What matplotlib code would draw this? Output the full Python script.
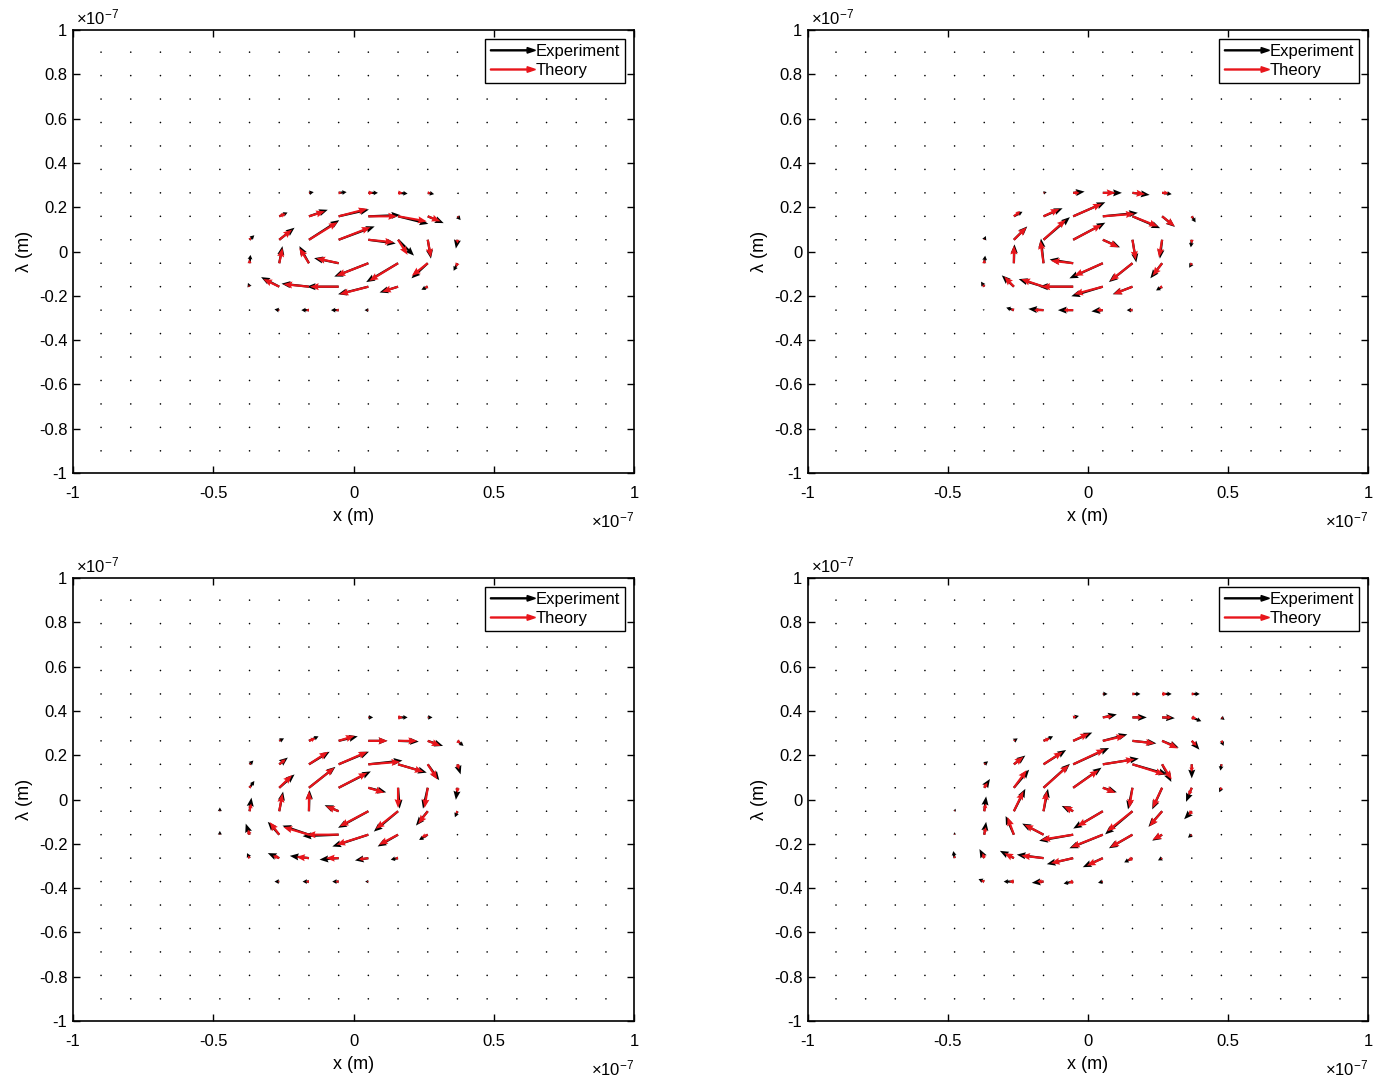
import numpy as np
import matplotlib
matplotlib.use('Agg')
import matplotlib.pyplot as plt
import matplotlib.patches as mpatches
from matplotlib.legend_handler import HandlerPatch

plt.rcParams['font.family'] = ['Liberation Sans', 'DejaVu Sans']
plt.rcParams['mathtext.default'] = 'regular'

# measurement grid in nm (axis unit 1e-7 m = 100 nm), 18 x 18 points
grid_nm = np.linspace(-90, 90, 18)
# vectors below are given for rows 4..13 (top to bottom) and cols 4..13

# ---- panel 1 ----
u_exp1 = [[0, 0, 0, 0, 0, 0, 0, 0, 0, 0],
          [0, 0, 0, 0, 0, 0, 0, 0, 0, 0],
          [0, 0, 0, 1.5, 2.5, 3, 3, 2, 0.5, 0],
          [0, 0.3, 2.6, 5.9, 9.5, 10, 9.5, 5, 1, 0],
          [0, 1.5, 4.8, 9.5, 11.3, 8.6, 5, 1, -0.5, 0],
          [0, 0.3, 1, -3, -7.7, -10.7, -10, -5.1, -1.2, 0],
          [0, -0.5, -5.7, -8.6, -10, -9.5, -5.8, -2, 0, 0],
          [0, 0, -1.5, -2.4, -2.4, -1.2, -0.3, 0, 0, 0],
          [0, 0, 0, 0, 0, 0, 0, 0, 0, 0],
          [0, 0, 0, 0, 0, 0, 0, 0, 0, 0]]
v_exp1 = [[0, 0, 0, 0, 0, 0, 0, 0, 0, 0],
          [0, 0, 0, 0, 0, 0, 0, 0, 0, 0],
          [0, 0, 0, 0.3, 0.3, 0, -0.3, -0.5, -0.5, 0],
          [0, 0.3, 1.5, 2.6, 2.7, 0.5, -3, -2.7, -1.5, 0],
          [0, 1.8, 4.8, 7.8, 5.3, -1.5, -6.3, -7.5, -3.5, 0],
          [0, 3.3, 6.8, 6.8, 2, -5.3, -7.5, -6, -3, 0],
          [0, 1.5, 3.8, 1.2, 0, -3, -2.3, -1.2, 0, 0],
          [0, 0, 0.3, 0, 0, 0, 0, 0, 0, 0],
          [0, 0, 0, 0, 0, 0, 0, 0, 0, 0],
          [0, 0, 0, 0, 0, 0, 0, 0, 0, 0]]
u_th1 = [[0, 0, 0, 0, 0, 0, 0, 0, 0, 0],
         [0, 0, 0, 0, 0, 0, 0, 0, 0, 0],
         [0, 0, 0, 0.5, 1, 1.5, 1.5, 1, 0, 0],
         [0, 0, 2, 5, 9, 9, 9, 4, 0.5, 0],
         [0, 0.5, 4, 9, 10, 8, 3, 1, 0, 0],
         [0, 0, 1, -3, -7, -10, -9, -5, -0.5, 0],
         [0, -0.5, -5, -8, -9, -9, -5, -1, 0, 0],
         [0, 0, -0.5, -1, -1, -0.5, 0, 0, 0, 0],
         [0, 0, 0, 0, 0, 0, 0, 0, 0, 0],
         [0, 0, 0, 0, 0, 0, 0, 0, 0, 0]]
v_th1 = [[0, 0, 0, 0, 0, 0, 0, 0, 0, 0],
         [0, 0, 0, 0, 0, 0, 0, 0, 0, 0],
         [0, 0, 0, 0, 0, 0, 0, 0, 0, 0],
         [0, 0, 1, 2, 3, 0, -2, -2, -0.5, 0],
         [0, 1, 4, 7, 5, -1, -6, -7, -1.5, 0],
         [0, 1.5, 6, 6, 2, -5, -7, -5, -1.5, 0],
         [0, 0.5, 3, 1, 0, -3, -2, -0.5, 0, 0],
         [0, 0, 0, 0, 0, 0, 0, 0, 0, 0],
         [0, 0, 0, 0, 0, 0, 0, 0, 0, 0],
         [0, 0, 0, 0, 0, 0, 0, 0, 0, 0]]

# ---- panel 2 ----
u_exp2 = [[0, 0, 0, 0, 0, 0, 0, 0, 0, 0],
          [0, 0, 0, 0, 0, 0, 0, 0, 0, 0],
          [0, 0, 0, 1, 3.6, 6, 5.4, 3, 0.3, 0],
          [0, 0.2, 2.7, 6, 10.1, 11, 8.7, 4, 1.2, 0],
          [0, 0.5, 4.2, 8.3, 10.1, 5.4, 1.2, -0.7, -0.3, 0],
          [0, 0.3, 0.2, -0.8, -7.4, -10.5, -7.4, -3.7, -0.8, 0],
          [0, -1, -3.8, -7.8, -10.7, -9.9, -6.2, -1.9, 0, 0],
          [0, -0.5, -2.4, -4.8, -4.8, -3.6, -1.8, 0, 0, 0],
          [0, 0, 0, 0, 0, 0, 0, 0, 0, 0],
          [0, 0, 0, 0, 0, 0, 0, 0, 0, 0]]
v_exp2 = [[0, 0, 0, 0, 0, 0, 0, 0, 0, 0],
          [0, 0, 0, 0, 0, 0, 0, 0, 0, 0],
          [0, 0, 0, 0.3, 0.5, 0, -0.8, -0.5, 0, 0],
          [0, 0.2, 1.8, 3.2, 5.6, 1.4, -4.7, -4.2, -2.4, 0],
          [0, 1.5, 5.3, 9, 6.8, -3, -9, -7.5, -3, 0],
          [0, 3, 7.5, 9.8, 1.5, -6, -7.5, -6, -1.8, 0],
          [0, 2, 4.5, 3, 0, -3.8, -3, -1.5, 0, 0],
          [0, 0.3, 1, 0.5, 0, -0.5, 0, 0, 0, 0],
          [0, 0, 0, 0, 0, 0, 0, 0, 0, 0],
          [0, 0, 0, 0, 0, 0, 0, 0, 0, 0]]
u_th2 = [[0, 0, 0, 0, 0, 0, 0, 0, 0, 0],
         [0, 0, 0, 0, 0, 0, 0, 0, 0, 0],
         [0, 0, 0, 0.5, 2, 4, 4, 2, 0, 0],
         [0, 0, 2, 5, 9, 10, 8, 4, 0.5, 0],
         [0, 0, 4, 7, 9, 5, 1, -1, 0, 0],
         [0, 0, 0, -1, -7, -9, -7, -3, -0.5, 0],
         [0, -0.5, -3, -7, -10, -9, -6, -1, 0, 0],
         [0, 0, -1, -3, -3, -2, -1, 0, 0, 0],
         [0, 0, 0, 0, 0, 0, 0, 0, 0, 0],
         [0, 0, 0, 0, 0, 0, 0, 0, 0, 0]]
v_th2 = [[0, 0, 0, 0, 0, 0, 0, 0, 0, 0],
         [0, 0, 0, 0, 0, 0, 0, 0, 0, 0],
         [0, 0, 0, 0, 0, 0, -0.5, 0, 0, 0],
         [0, 0, 2, 3, 5, 1, -4, -4, -1, 0],
         [0, 0.5, 5, 8, 6, -3, -8, -7, -1.5, 0],
         [0, 1.5, 7, 9, 1, -5, -7, -5, -1, 0],
         [0, 1, 4, 3, 0, -3, -3, -0.5, 0, 0],
         [0, 0, 0.5, 0, 0, 0, 0, 0, 0, 0],
         [0, 0, 0, 0, 0, 0, 0, 0, 0, 0],
         [0, 0, 0, 0, 0, 0, 0, 0, 0, 0]]

# ---- panel 3 ----
u_exp3 = [[0, 0, 0, 0, 0, 0, 0, 0, 0, 0],
          [0, 0, 0, 0, 0.5, 1.5, 3, 1.5, 0, 0],
          [0, 0.5, 1.5, 3, 6, 6, 6.5, 4.8, 1.9, 0],
          [0, 1.2, 2.7, 6.5, 9.5, 10.7, 9, 3.6, 1, 0],
          [0, 1.5, 4.8, 8.3, 10.1, 5.6, 0.5, -1.5, -0.5, 0],
          [0, 0.6, 1.2, 0.2, -4.4, -9.5, -7.6, -3.7, -0.8, 0],
          [0, -1.2, -3.6, -8.3, -11.3, -11.3, -6.4, -2.7, 0, 0],
          [0, -0.8, -3.6, -6, -6, -4.2, -2.3, 0, 0, 0],
          [0, 0, -1.5, -2, -2, -1, 0, 0, 0, 0],
          [0, 0, 0, 0, 0, 0, 0, 0, 0, 0]]
v_exp3 = [[0, 0, 0, 0, 0, 0, 0, 0, 0, 0],
          [0, 0, 0, 0, 0, 0, 0, 0, 0, 0],
          [0, 0, 1, 1.8, 1.8, 0, -0.3, -2, -2, 0],
          [0, 1.5, 2.7, 5, 5, 1.5, -3.3, -6.3, -4, 0],
          [0, 2.7, 5.3, 8.3, 6.5, -1.8, -8.3, -8.3, -4.8, 0],
          [1.5, 5.4, 7.8, 8.4, 2.4, -6.6, -8.1, -5.7, -2.4, 0],
          [1.5, 4.4, 5.1, 3.6, -0.6, -4.7, -4.7, -2.1, 0, 0],
          [0, 2, 2, 0.9, -0.6, -0.9, -0.6, 0, 0, 0],
          [0, 0, 0, 0, 0, 0, 0, 0, 0, 0],
          [0, 0, 0, 0, 0, 0, 0, 0, 0, 0]]
u_th3 = [[0, 0, 0, 0, 0, 0, 0, 0, 0, 0],
         [0, 0, 0, 0, 0, 0.5, 1.5, 0.5, 0, 0],
         [0, 0, 0.5, 2, 5, 6, 6, 4, 1, 0],
         [0, 0.5, 2, 6, 9, 10, 8, 3, 0.5, 0],
         [0, 0.5, 4, 8, 9, 5, 0, -1, 0, 0],
         [0, 0.5, 1, 0, -4, -9, -7, -3, -0.5, 0],
         [0, -0.5, -3, -8, -10, -10, -6, -2, 0, 0],
         [0, -0.5, -2, -4, -4, -3, -1, 0, 0, 0],
         [0, 0, -0.5, -1, -1, -0.5, 0, 0, 0, 0],
         [0, 0, 0, 0, 0, 0, 0, 0, 0, 0]]
v_th3 = [[0, 0, 0, 0, 0, 0, 0, 0, 0, 0],
         [0, 0, 0, 0, 0, 0, 0, 0, 0, 0],
         [0, 0, 0.5, 1, 2, 0, 0, -2, -1, 0],
         [0, 0.5, 2, 5, 5, 1, -3, -6, -2, 0],
         [0, 1, 5, 8, 6, -2, -8, -8, -2, 0],
         [0.5, 3, 7, 8, 2, -6, -7, -5, -1, 0],
         [0.5, 2, 5, 3, 0, -4, -4, -1, 0, 0],
         [0, 1, 1, 0.5, 0, -0.5, 0, 0, 0, 0],
         [0, 0, 0, 0, 0, 0, 0, 0, 0, 0],
         [0, 0, 0, 0, 0, 0, 0, 0, 0, 0]]

# ---- panel 4 ----
u_exp4 = [[0, 0, 0, 0, 0, 1.5, 2.5, 3, 2.5, 0],
          [0, 0, 0, 0.3, 1.8, 4.4, 4.5, 4, 3, 1],
          [0, 0.3, 1.2, 3, 6, 7.7, 7.5, 5.2, 2.4, 0.7],
          [0, 1.2, 3.6, 7.1, 11.3, 11.3, 11, 2.9, 0, -0.3],
          [0, 1.8, 4.8, 8.3, 8.9, 4.4, -1.4, -3.1, -1.8, -0.7],
          [0.3, 0.6, 3.6, 1.4, -3.6, -9.3, -8.6, -4.3, -2.4, 0],
          [0, 0.6, -2.6, -6.7, -10.7, -10.5, -7.4, -3.1, -1.2, 0],
          [-0.4, -1.5, -4.4, -8.4, -8.3, -6.3, -2.6, -1.3, 0, 0],
          [-0.5, -1.8, -3.2, -3.7, -3, -1.5, -0.3, 0, 0, 0],
          [0, 0, 0, 0, 0, 0, 0, 0, 0, 0]]
v_exp4 = [[0, 0, 0, 0, 0, 0, 0, 0, 0, 0],
          [0, 0, 0, 0, 0.6, 1.2, 0, -0.3, -1.5, -1],
          [0, 0.3, 1, 1.8, 3.3, 2.6, -1, -2.7, -3.5, -2],
          [0, 1.2, 3.5, 5.7, 6.5, 2.3, -4, -7, -5.6, -2.5],
          [0, 3.5, 7.2, 9.5, 8, -1.8, -8.6, -8.6, -5.6, -1.8],
          [1, 5.9, 8.9, 8.9, 2.1, -6.9, -9.2, -6.2, -3.2, 0],
          [1, 5.1, 7.4, 4.4, -2.4, -5.4, -5.4, -2.4, -1.2, 0],
          [2.8, 3.6, 2.9, 1.4, -2.4, -3.6, -1.7, -0.9, 0, 0],
          [0, 1, 0, -0.5, -0.8, -0.5, 0, 0, 0, 0],
          [0, 0, 0, 0, 0, 0, 0, 0, 0, 0]]
u_th4 = [[0, 0, 0, 0, 0, 0.5, 1, 1.5, 1, 0],
         [0, 0, 0, 0, 1, 3, 3, 3, 1.5, 0.5],
         [0, 0, 0.5, 2, 5, 7, 7, 5, 1.5, 0.5],
         [0, 0.5, 3, 6, 10, 10, 10, 3, 0, 0],
         [0, 1, 4, 8, 8, 4, -1, -3, -1, -0.5],
         [0, 0.5, 3, 1, -3, -8, -8, -4, -1, 0],
         [0, 0.5, -2, -6, -10, -10, -7, -3, -0.5, 0],
         [0, -0.5, -3, -7, -7, -5, -1.5, -0.5, 0, 0],
         [0, -1, -1.5, -2, -1.5, -0.5, 0, 0, 0, 0],
         [0, 0, 0, 0, 0, 0, 0, 0, 0, 0]]
v_th4 = [[0, 0, 0, 0, 0, 0, 0, 0, 0, 0],
         [0, 0, 0, 0, 0.5, 0.5, 0, 0, -0.5, -0.5],
         [0, 0, 0.5, 1, 3, 2, -1, -3, -2, -1],
         [0, 0.5, 3, 5, 6, 2, -4, -6, -3, -1],
         [0, 2, 7, 9, 7, -2, -8, -8, -3, -1],
         [0.5, 3, 8, 8, 2, -6, -8, -6, -1.5, 0],
         [0.5, 3, 7, 4, -2, -5, -5, -2, -0.5, 0],
         [1, 2, 2, 1, -2, -3, -1, -0.5, 0, 0],
         [0, 0.5, 0, 0, -0.5, 0, 0, 0, 0, 0],
         [0, 0, 0, 0, 0, 0, 0, 0, 0, 0]]

panels = [(u_exp1, v_exp1, u_th1, v_th1),
          (u_exp2, v_exp2, u_th2, v_th2),
          (u_exp3, v_exp3, u_th3, v_th3),
          (u_exp4, v_exp4, u_th4, v_th4)]

xticks = [-1, -0.5, 0, 0.5, 1]
yticks = [-1, -0.8, -0.6, -0.4, -0.2, 0, 0.2, 0.4, 0.6, 0.8, 1]


def full(win):
    f = np.zeros((18, 18))
    f[4:14, 4:14] = np.array(win, dtype=float)
    return f


def draw_field(ax, u, v, color, minlen):
    # long vectors get full arrow heads, short ones small heads (like matlab)
    big = np.hypot(u, v) >= 3.5
    kw = dict(angles='xy', scale_units='xy', scale=0.88, units='dots',
              width=2.2, color=color)
    ax.quiver(X[big], Y[big], u[big], v[big], headwidth=3.2, headlength=4.0,
              headaxislength=3.6, minlength=minlen, **kw)
    ax.quiver(X[~big], Y[~big], u[~big], v[~big], headwidth=2.2,
              headlength=2.0, headaxislength=1.8, minlength=minlen, **kw)


def make_arrow(legend, orig_handle, xdescent, ydescent, width, height, fontsize):
    return mpatches.FancyArrow(0, 0.5 * height, width, 0, width=0.7,
                               head_width=4.0, head_length=6.0,
                               length_includes_head=True)


fig = plt.figure(figsize=(13.86, 10.82), dpi=100)
W, H = 1386.0, 1082.0
# axes boxes in pixels: left, top, right, bottom
boxes = [(73, 30, 634, 473), (808, 30, 1368, 473),
         (73, 578, 634, 1021), (808, 578, 1368, 1021)]

X, Y = np.meshgrid(grid_nm, grid_nm[::-1])

for (ue, ve, ut, vt), (l, t, r, b) in zip(panels, boxes):
    ax = fig.add_axes([l / W, 1 - b / H, (r - l) / W, (b - t) / H])
    draw_field(ax, full(ue), full(ve), 'black', 0.8)
    draw_field(ax, full(ut), full(vt), '#e8151b', 0.0)

    ax.set_xlim(-100, 100)
    ax.set_ylim(-100, 100)
    ax.set_xticks([v * 100 for v in xticks])
    ax.set_xticklabels(['%g' % v for v in xticks])
    ax.set_yticks([v * 100 for v in yticks])
    ax.set_yticklabels(['%g' % v for v in yticks])
    ax.tick_params(direction='in', top=True, right=True, length=5, width=1,
                   labelsize=12)
    ax.tick_params(axis='x', pad=9)
    ax.tick_params(axis='y', pad=4)
    for s in ax.spines.values():
        s.set_linewidth(1.2)
    ax.set_xlabel('x (m)', fontsize=13, labelpad=5.5)
    ax.set_ylabel('λ (m)', fontsize=13, labelpad=4)
    ax.text(0.005, 1.005, r'$\times10^{-7}$', transform=ax.transAxes,
            ha='left', va='bottom', fontsize=12)
    ax.text(1.0, -0.084, r'$\times10^{-7}$', transform=ax.transAxes,
            ha='right', va='top', fontsize=12)

    handles = [mpatches.Patch(color='black', label='Experiment'),
               mpatches.Patch(color='#e8151b', label='Theory')]
    leg = ax.legend(handles=handles, loc='upper right', fontsize=12,
                    handler_map={mpatches.Patch: HandlerPatch(patch_func=make_arrow)},
                    fancybox=False, framealpha=1, edgecolor='black',
                    borderpad=0.3, labelspacing=0.25, handlelength=2.7,
                    handletextpad=0.0, borderaxespad=0.55)
    leg.get_frame().set_linewidth(1.0)

fig.savefig('out.png', dpi=100)
